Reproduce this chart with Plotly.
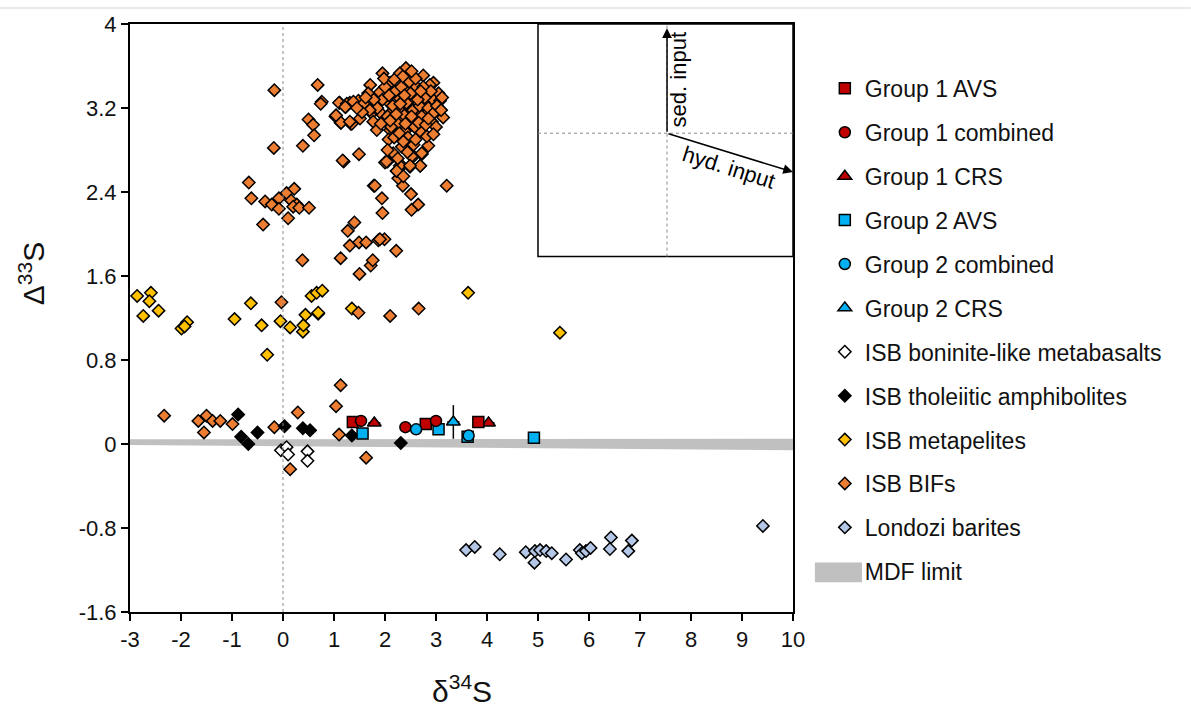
import plotly.graph_objects as go

# ---------------------------------------------------------------- data
# Group 1 (red) and Group 2 (blue) sulfide fractions: d34S, D33S
g1_avs_x = [1.37, 2.80, 3.83]
g1_avs_y = [0.21, 0.19, 0.21]
g1_comb_x = [1.53, 2.40, 3.00]
g1_comb_y = [0.22, 0.16, 0.22]
g1_crs_x = [1.79, 4.03]
g1_crs_y = [0.20, 0.20]
g1_crs_xerr = [0.12, 0.12]

g2_avs_x = [1.56, 3.05, 3.62, 4.92]
g2_avs_y = [0.10, 0.14, 0.07, 0.06]
g2_comb_x = [2.61, 3.64]
g2_comb_y = [0.14, 0.08]
g2_crs_x = [3.34]
g2_crs_y = [0.21]
g2_crs_xerr = [0.12]
g2_crs_yerr = [0.16]

# Isua supracrustal belt reference data
bon_x = [-0.04, 0.07, 0.10, 0.48, 0.48]
bon_y = [-0.06, -0.03, -0.10, -0.07, -0.16]

thol_x = [-0.88, -0.82, -0.68, -0.50, 0.03, 0.39, 0.53, 1.35, 2.31]
thol_y = [0.28, 0.07, 0.00, 0.11, 0.17, 0.15, 0.13, 0.08, 0.01]

pel_x = [-2.86, -2.59, -2.62, -2.74, -2.44, -1.99, -1.88, -1.93, -0.95, -0.63,
         -0.42, -0.05, 0.14, 0.39, 0.40, 0.44, 0.69, 0.56, 0.66, 0.77,
         1.35, 0.69, -0.31, 3.63, 5.43]
pel_y = [1.41, 1.44, 1.36, 1.22, 1.27, 1.10, 1.16, 1.12, 1.19, 1.34,
         1.13, 1.17, 1.11, 1.07, 1.13, 1.23, 1.24, 1.41, 1.44, 1.46,
         1.29, 1.25, 0.85, 1.44, 1.06]

bif_x = [
    # near-zero D33S
    -2.33, -1.66, -1.50, -1.38, -1.23, -1.55, -0.99, -0.17, 0.29, 1.04,
    1.13, 1.10, 1.63, 0.14,
    # intermediate values
    -0.03, 1.48, 2.10, 2.66, 1.50, 1.72, 1.76, 1.13, 0.38, 1.27,
    1.40, 1.31, 1.49, 1.63, 1.87, 1.99, 2.22, 1.90,
    # around d34S = 0
    -0.17, 0.68, 0.76, 0.74, 1.11, 1.31, 1.23, 1.03, 1.13, 1.33,
    0.50, 0.59, 0.61, -0.18, 0.39, 1.19, 1.49, -0.67, -0.62, -0.39,
    -0.35, -0.22, -0.08, -0.08, 0.07, 0.22, 0.16, 0.27, 0.20, 0.32,
    0.51, 0.10, 1.10, 1.25, 1.48, 1.04, 1.14, 1.35, 1.17,
    # tail below the main cluster
    1.78, 1.94, 1.95, 3.21, 2.51, 2.65, 2.52, 2.35, 2.26, 2.05,
    2.00, 2.15, 2.23, 2.33, 2.49, 2.69, 2.56, 2.72, 2.85, 2.16,
    2.03, 2.29, 2.52, 2.72, 2.69, 2.49, 2.23, 2.36, 1.80,
    # main cluster
    1.95, 2.41, 2.29, 2.75, 2.95, 1.71, 2.10, 2.46, 2.82, 3.05,
    1.67, 1.90, 2.13, 2.29, 2.62, 2.92, 3.08, 1.22, 1.38, 1.58,
    1.84, 2.10, 2.46, 2.75, 2.98, 3.14, 1.51, 1.74, 1.90, 2.10,
    2.29, 2.65, 2.78, 1.31, 1.77, 2.00, 2.26, 2.52, 2.69, 2.92,
    1.84, 2.10, 2.39, 2.69, 2.82, 2.07, 2.33, 2.56,
    1.85, 1.95, 2.05, 2.15, 2.20, 2.25, 2.32, 2.38, 2.42, 2.48,
    2.55, 2.58, 2.62, 2.68, 2.72, 2.78, 2.85, 2.88, 2.95, 3.00,
    1.92, 2.00, 2.08, 2.12, 2.18, 2.28, 2.35, 2.45, 2.50, 2.60,
    2.66, 2.75, 2.80, 2.90, 3.02, 3.10, 1.78, 1.70, 1.62, 1.55,
    1.45, 2.22, 2.30, 2.40, 2.52, 2.64, 2.70, 2.36, 2.60, 2.44,
    2.25, 2.05, 1.98, 2.52, 2.18, 2.85, 3.12, 2.95, 2.38, 2.10,
]
bif_y = [
    0.27, 0.22, 0.27, 0.22, 0.22, 0.11, 0.19, 0.16, 0.30, 0.36,
    0.56, 0.09, -0.13, -0.24,
    1.35, 1.25, 1.22, 1.29, 1.62, 1.70, 1.75, 1.77, 1.75, 2.03,
    2.11, 1.89, 1.92, 1.92, 1.94, 1.95, 1.84, 1.95,
    3.37, 3.42, 3.26, 3.24, 3.25, 3.25, 3.21, 3.12, 3.06, 3.05,
    3.09, 3.04, 2.94, 2.82, 2.84, 2.69, 2.76, 2.49, 2.34, 2.09,
    2.31, 2.28, 2.34, 2.24, 2.39, 2.43, 2.32, 2.28, 2.26, 2.25,
    2.25, 2.15, 3.25, 3.24, 3.27, 3.13, 3.06, 3.05, 2.70,
    2.46, 2.34, 2.20, 2.46, 2.38, 2.28, 2.23, 2.46, 2.53, 2.69,
    2.68, 2.76, 2.60, 2.65, 2.64, 2.65, 2.74, 2.76, 2.84, 2.77,
    2.69, 2.65, 2.74, 2.77, 2.65, 2.65, 2.60, 2.55, 2.46,
    3.53, 3.58, 3.53, 3.51, 3.44, 3.42, 3.44, 3.38, 3.35, 3.34,
    3.34, 3.35, 3.34, 3.29, 3.31, 3.29, 3.27, 3.21, 3.26, 3.24,
    3.24, 3.24, 3.26, 3.26, 3.18, 3.11, 3.10, 3.15, 3.16, 3.15,
    3.18, 3.19, 3.13, 3.07, 3.07, 3.09, 3.09, 3.05, 3.09, 3.07,
    2.99, 2.99, 2.98, 2.98, 2.93, 2.90, 2.83, 2.85,
    3.20, 3.28, 3.12, 3.22, 3.36, 3.05, 3.40, 3.13, 3.25, 3.45,
    3.18, 3.02, 3.40, 3.22, 3.12, 3.30, 3.20, 3.42, 3.15, 3.02,
    3.05, 3.40, 3.32, 3.02, 2.92, 2.96, 3.50, 2.92, 3.34, 3.48,
    3.06, 3.40, 3.04, 3.36, 3.22, 3.18, 3.28, 3.18, 3.30, 3.16,
    3.20, 3.14, 3.24, 3.05, 3.12, 3.28, 3.36, 2.88, 2.90, 2.78,
    2.72, 2.80, 3.48, 3.55, 3.47, 3.10, 3.30, 2.95, 3.32, 3.08,
]

lon_x = [3.59, 3.76, 4.25, 4.76, 4.93, 4.94, 5.04, 5.16, 5.27, 5.55,
         5.82, 5.86, 5.94, 6.03, 6.43, 6.41, 6.84, 6.77, 9.41]
lon_y = [-1.01, -0.98, -1.05, -1.03, -1.13, -1.02, -1.01, -1.02, -1.04, -1.10,
         -1.01, -1.04, -1.02, -0.99, -0.89, -1.00, -0.92, -1.02, -0.78]

# mass-dependent fractionation envelope (upper / lower bound at each end)
mdf_x = [-3, 10]
mdf_upper = [0.045, 0.05]
mdf_lower = [-0.01, -0.06]

x_ticks = [-3, -2, -1, 0, 1, 2, 3, 4, 5, 6, 7, 8, 9, 10]
x_ticklabels = ["-3", "-2", "-1", "0", "1", "2", "3", "4", "5", "6", "7",
                "8", "9", "10"]
y_ticks = [-1.6, -0.8, 0, 0.8, 1.6, 2.4, 3.2, 4]
y_ticklabels = ["-1.6", "-0.8", "0", "0.8", "1.6", "2.4", "3.2", "4"]

# ---------------------------------------------------------------- style
RED = "#c00000"
BLUE = "#00b0f0"
YELLOW = "#ffc000"
ORANGE = "#ed7d31"
LILAC = "#b4c7e7"
GREY_BAND = "#c0c0c0"
EDGE = dict(color="black", width=1.5)
FONT = "Liberation Sans, Arial, sans-serif"

fig = go.Figure()

order = ["Group 1 AVS", "Group 1 combined", "Group 1 CRS", "Group 2 AVS",
         "Group 2 combined", "Group 2 CRS", "ISB boninite-like metabasalts",
         "ISB tholeiitic amphibolites", "ISB metapelites", "ISB BIFs",
         "Londozi barites", "MDF limit"]
rank = {n: i + 1 for i, n in enumerate(order)}


def add_pts(name, xs, ys, symbol, color, size, **kw):
    fig.add_trace(go.Scatter(
        x=xs, y=ys, mode="markers", name=name, legendgroup=name,
        legendrank=rank[name],
        marker=dict(symbol=symbol, color=color, size=size, line=EDGE),
        **kw))


# MDF band (its legend entry is drawn separately below)
fig.add_trace(go.Scatter(
    x=mdf_x + mdf_x[::-1], y=mdf_upper + mdf_lower[::-1],
    fill="toself", fillcolor=GREY_BAND, mode="lines",
    line=dict(width=0, color=GREY_BAND), showlegend=False,
    hoverinfo="skip"))
# legend label for the band; the swatch itself is a layout shape
fig.add_trace(go.Scatter(
    x=[None], y=[None], mode="lines", line=dict(width=0, color=GREY_BAND),
    name="MDF limit", legendgroup="MDF limit", legendrank=rank["MDF limit"]))

add_pts("Londozi barites", lon_x, lon_y, "diamond", LILAC, 9.5)
add_pts("ISB metapelites", pel_x, pel_y, "diamond", YELLOW, 9.5)
add_pts("ISB BIFs", bif_x, bif_y, "diamond", ORANGE, 9.5)
add_pts("ISB boninite-like metabasalts", bon_x, bon_y, "diamond", "white", 9.5)
add_pts("ISB tholeiitic amphibolites", thol_x, thol_y, "diamond", "black", 9.5)

err_style = dict(type="data", color="black", thickness=1.5, width=0)
add_pts("Group 1 CRS", g1_crs_x, g1_crs_y, "triangle-up", RED, 12,
        error_x=dict(array=g1_crs_xerr, **err_style))
add_pts("Group 2 CRS", g2_crs_x, g2_crs_y, "triangle-up", BLUE, 12,
        error_x=dict(array=g2_crs_xerr, **err_style),
        error_y=dict(array=g2_crs_yerr, **err_style))
add_pts("Group 1 AVS", g1_avs_x, g1_avs_y, "square", RED, 11)
add_pts("Group 2 AVS", g2_avs_x, g2_avs_y, "square", BLUE, 11)
add_pts("Group 1 combined", g1_comb_x, g1_comb_y, "circle", RED, 11)
add_pts("Group 2 combined", g2_comb_x, g2_comb_y, "circle", BLUE, 11)

# ---------------------------------------------------------------- frame
axis_common = dict(showgrid=False, zeroline=False, showline=True,
                   linecolor="black", linewidth=2, mirror=True,
                   ticks="outside", ticklen=7, tickwidth=1.5,
                   tickcolor="black",
                   tickfont=dict(family=FONT, size=22, color="#111"))

fig.update_xaxes(range=[-3, 10], tickvals=x_ticks, ticktext=x_ticklabels,
                 **axis_common)
fig.update_yaxes(range=[-1.6, 4], tickvals=y_ticks, ticktext=y_ticklabels,
                 **axis_common)

shapes = [
    # d34S = 0 reference line
    dict(type="line", xref="x", yref="y", x0=0, x1=0, y0=-1.6, y1=4,
         line=dict(color="#8c8c8c", width=1, dash="dot"), layer="above"),
    # inset panel
    dict(type="rect", xref="x", yref="y", x0=5.0, x1=10, y0=1.785, y1=4,
         line=dict(color="black", width=1.5), fillcolor="rgba(0,0,0,0)"),
    dict(type="line", xref="x", yref="y", x0=5.0, x1=10, y0=2.96, y1=2.96,
         line=dict(color="#8c8c8c", width=1, dash="dot")),
    dict(type="line", xref="x", yref="y", x0=7.53, x1=7.53, y0=1.785, y1=4,
         line=dict(color="#8c8c8c", width=1, dash="dot")),
    # legend swatch for the MDF band
    dict(type="rect", xref="paper", yref="paper", x0=1.033, x1=1.104,
         y0=0.0505, y1=0.0842, line=dict(width=0), fillcolor=GREY_BAND),
    # thin rule along the top of the page
    dict(type="line", xref="paper", yref="paper", x0=-0.2, x1=1.6,
         y0=1.027, y1=1.027, line=dict(color="#e2e2e2", width=1.5)),
]

annotations = [
    # inset arrows
    dict(x=7.53, y=3.96, ax=7.53, ay=2.96, xref="x", yref="y",
         axref="x", ayref="y", showarrow=True, arrowhead=2, arrowsize=1.3,
         arrowwidth=1.5, arrowcolor="black", text=""),
    dict(x=10.0, y=2.59, ax=7.53, ay=2.96, xref="x", yref="y",
         axref="x", ayref="y", showarrow=True, arrowhead=2, arrowsize=1.3,
         arrowwidth=1.5, arrowcolor="black", text=""),
    dict(x=7.76, y=3.47, xref="x", yref="y", text="sed. input",
         textangle=-90, showarrow=False, xanchor="center", yanchor="middle",
         font=dict(family=FONT, size=22, color="black")),
    dict(x=8.74, y=2.63, xref="x", yref="y", text="hyd. input",
         textangle=17.6, showarrow=False, xanchor="center", yanchor="middle",
         font=dict(family=FONT, size=22, color="black")),
    # axis titles
    dict(x=-0.148, y=0.576, xref="paper", yref="paper",
         text="Δ<sup>33</sup>S", textangle=-90, showarrow=False,
         xanchor="center", yanchor="middle",
         font=dict(family=FONT, size=30, color="#111")),
    dict(x=0.5, y=-0.131, xref="paper", yref="paper",
         text="δ<sup>34</sup>S", showarrow=False,
         xanchor="center", yanchor="middle",
         font=dict(family=FONT, size=30, color="#111")),
]

fig.update_layout(
    width=1191, height=707,
    margin=dict(l=130, r=398, t=18, b=95),
    paper_bgcolor="white", plot_bgcolor="white",
    showlegend=True,
    legend=dict(x=1.048, y=0.927, xanchor="left", yanchor="top",
                font=dict(family=FONT, size=23, color="#111"),
                tracegroupgap=11, itemwidth=30,
                bgcolor="rgba(0,0,0,0)"),
    shapes=shapes, annotations=annotations,
)

fig.write_html("out.html")
